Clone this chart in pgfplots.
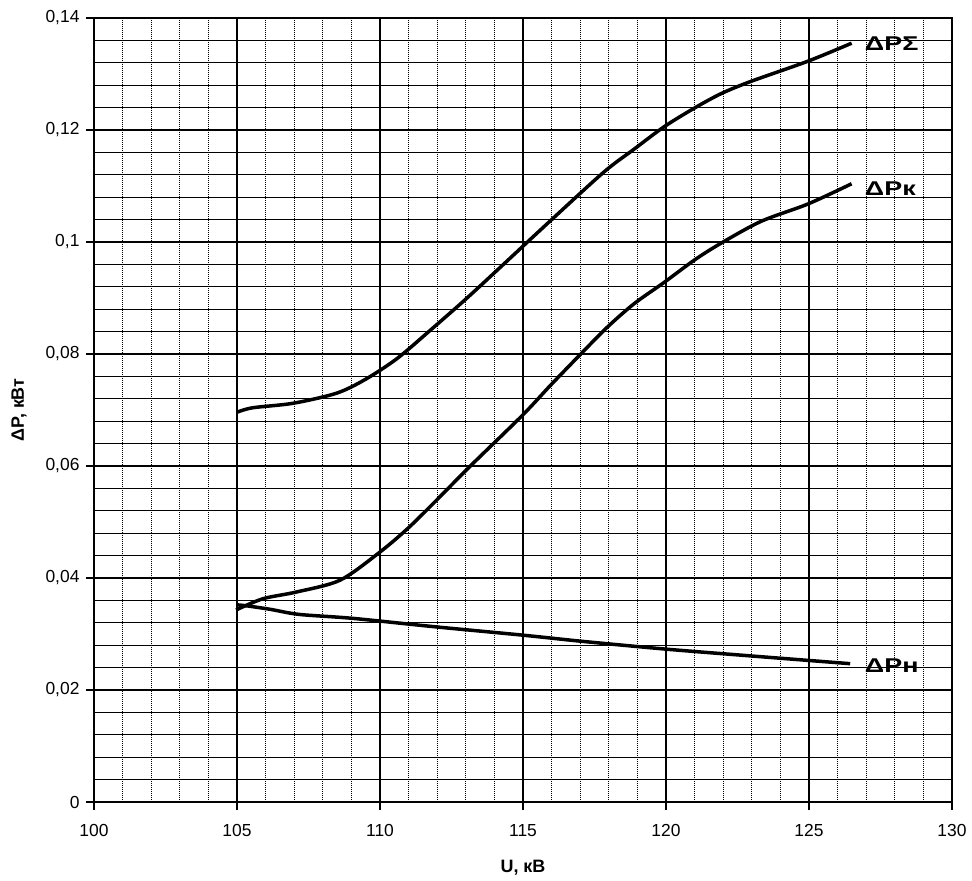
\documentclass[border=0pt]{standalone}
\usepackage{fontspec}
\setmainfont{Liberation Sans}
\usepackage{pgfplots}
\pgfplotsset{compat=1.18}
\usepackage{graphicx}

\begin{document}
\begin{tikzpicture}
\begin{axis}[
  scale only axis, width=858bp, height=784bp,
  xmin=100, xmax=130, ymin=0, ymax=0.14,
  xtick={100,105,110,115,120,125,130},
  ytick={0,0.02,0.04,0.06,0.08,0.1,0.12,0.14},
  minor xtick={101,102,103,104,106,107,108,109,111,112,113,114,116,117,118,119,121,122,123,124,126,127,128,129},
  minor ytick={0.004,0.008,0.012,0.016,0.024,0.028,0.032,0.036,0.044,0.048,0.052,0.056,0.064,0.068,0.072,0.076,0.084,0.088,0.092,0.096,0.104,0.108,0.112,0.116,0.124,0.128,0.132,0.136},
  grid=both,
  major grid style={black, line width=2bp, solid},
  minor x grid style={black, line width=1bp, densely dotted},
  minor y grid style={black, line width=1.3bp, solid},
  axis line style={black, line width=2bp},
  tick pos=left, tick align=outside,
  major tick length=8bp, minor tick length=0pt,
  tick style={black, line width=1.2bp},
  ticklabel style={font=\fontsize{17.5}{20}\selectfont},
  xticklabel style={yshift=-11bp},
  yticklabel style={xshift=-3bp},
  /pgf/number format/use comma,
  /pgf/number format/fixed,
  /pgf/number format/precision=2,
  /pgf/number format/assume math mode=true,
  clip=false,
]
% Delta P Sigma
\addplot[black, line width=3.5bp, smooth] coordinates {
 (105,0.0696) (105.55,0.0704) (106.96,0.0712) (108.48,0.0730) (109.5,0.0755)
 (110.6,0.0792) (111.75,0.0842) (113.0,0.0898) (114.21,0.0955) (115.96,0.1038)
 (117.83,0.1125) (118.89,0.1166) (119.94,0.1206) (120.99,0.1239) (121.93,0.1265)
 (122.98,0.1287) (124.97,0.1323) (126.49,0.1355)
};
% Delta P k
\addplot[black, line width=3.5bp, smooth] coordinates {
 (104.97,0.0343) (105.91,0.0363) (107.08,0.0375) (108.60,0.0396) (109.94,0.0444)
 (110.94,0.0487) (111.9,0.0535) (113.16,0.0600) (114.97,0.0690) (115.96,0.0744)
 (117.02,0.0800) (117.95,0.0848) (118.89,0.0890) (119.94,0.0928) (121.0,0.0968)
 (121.93,0.0998) (123.33,0.1037) (124.97,0.1068) (126.49,0.1104)
};
% Delta P n
\addplot[black, line width=3.5bp, smooth] coordinates {
 (105.02,0.0352) (105.38,0.0350) (106.17,0.0344) (107.17,0.0335) (109.03,0.0328)
 (111.90,0.0313) (114.98,0.0298) (117.05,0.0287) (119.99,0.0273) (122.93,0.0261)
 (124.93,0.0253) (126.44,0.0247)
};
\node[anchor=west, inner sep=0pt, font=\bfseries\fontsize{20}{24}\selectfont] at (axis cs:126.95,0.1355) {\scalebox{1.35}[1]{ΔPΣ}};
\node[anchor=west, inner sep=0pt, font=\bfseries\fontsize{20}{24}\selectfont] at (axis cs:126.95,0.1095) {\scalebox{1.35}[1]{ΔPк}};
\node[anchor=west, inner sep=0pt, font=\bfseries\fontsize{20}{24}\selectfont] at (axis cs:126.95,0.0243) {\scalebox{1.35}[1]{ΔPн}};
\end{axis}
\node[rotate=90, font=\bfseries\fontsize{18}{21}\selectfont] at ([xshift=-75bp]current axis.west) {ΔP, кВт};
\node[font=\bfseries\fontsize{18}{21}\selectfont] at ([yshift=-66bp]current axis.south) {U, кВ};
\pgfresetboundingbox
\path ([shift={(-94bp,-79bp)}]current axis.south west) rectangle ([shift={(20bp,18bp)}]current axis.north east);
\end{tikzpicture}
\end{document}
